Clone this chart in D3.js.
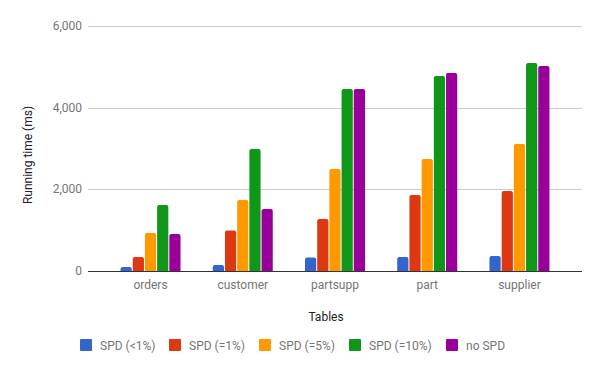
<!DOCTYPE html>
<html>
<head>
<meta charset="utf-8">
<script src="https://cdn.jsdelivr.net/npm/d3@7"></script>
<style>
  body { margin: 0; background: #fff; }
  svg { font-family: Roboto, Arial, sans-serif; }
</style>
</head>
<body>
<div id="chart"></div>
<script>
const tables = ["orders", "customer", "partsupp", "part", "supplier"];
const seriesNames = ["SPD (<1%)", "SPD (=1%)", "SPD (=5%)", "SPD (=10%)", "no SPD"];
const spdLt1 = [100, 150, 330, 345, 370];
const spdEq1 = [345, 990, 1275, 1860, 1960];
const spdEq5 = [930, 1740, 2500, 2745, 3110];
const spdEq10 = [1615, 2990, 4455, 4775, 5095];
const noSpd = [905, 1520, 4455, 4850, 5020];
const yTicks = [0, 2000, 4000, 6000];

const seriesValues = [spdLt1, spdEq1, spdEq5, spdEq10, noSpd];
const colors = ["#3366cc", "#dc3912", "#ff9900", "#109618", "#990099"];

const width = 600, height = 371;
const margin = {top: 26, right: 18, bottom: 100, left: 88};

const svg = d3.select("#chart")
    .append("svg")
    .attr("width", width)
    .attr("height", height);

const x = d3.scaleBand()
    .domain(tables)
    .range([margin.left, width - margin.right])
    .paddingInner(0)
    .paddingOuter(0.178);

const x1 = d3.scaleBand()
    .domain(d3.range(seriesNames.length))
    .range([0, 60])
    .paddingInner(0.08);

const y = d3.scaleLinear()
    .domain([0, 6000])
    .range([height - margin.bottom, margin.top]);

// grid lines
svg.append("g")
    .selectAll("line")
    .data(yTicks.slice(1))
    .join("line")
    .attr("x1", margin.left)
    .attr("x2", width - margin.right)
    .attr("y1", d => Math.round(y(d)) + 0.5)
    .attr("y2", d => Math.round(y(d)) + 0.5)
    .attr("stroke", "#cccccc");

// y tick labels
svg.append("g")
    .selectAll("text")
    .data(yTicks)
    .join("text")
    .attr("x", margin.left - 6)
    .attr("y", d => y(d) + 4)
    .attr("text-anchor", "end")
    .attr("font-size", 12)
    .attr("fill", "#757575")
    .text(d => d3.format(",")(d));

// bars with rounded tops
function barPath(x0, w, yTop, yBase) {
    const r = Math.min(2, (yBase - yTop) / 2);
    return `M${x0},${yBase} V${yTop + r} Q${x0},${yTop} ${x0 + r},${yTop} H${x0 + w - r} Q${x0 + w},${yTop} ${x0 + w},${yTop + r} V${yBase} Z`;
}

const groups = svg.append("g")
    .selectAll("g")
    .data(tables)
    .join("g")
    .attr("transform", d => `translate(${x(d) + x.bandwidth() / 2 - 30},0)`);

groups.selectAll("path")
    .data((t, i) => seriesValues.map((s, k) => ({k: k, v: s[i]})))
    .join("path")
    .attr("fill", d => colors[d.k])
    .attr("d", d => barPath(x1(d.k), x1.bandwidth(), y(d.v), y(0)));

// baseline
svg.append("line")
    .attr("x1", margin.left)
    .attr("x2", width - margin.right)
    .attr("y1", Math.round(y(0)) + 0.5)
    .attr("y2", Math.round(y(0)) + 0.5)
    .attr("stroke", "#333333");

// category labels
svg.append("g")
    .selectAll("text")
    .data(tables)
    .join("text")
    .attr("x", d => x(d) + x.bandwidth() / 2)
    .attr("y", y(0) + 18)
    .attr("text-anchor", "middle")
    .attr("font-size", 12)
    .attr("fill", "#757575")
    .text(d => d);

// axis titles
svg.append("text")
    .attr("x", 326)
    .attr("y", 321)
    .attr("text-anchor", "middle")
    .attr("font-size", 12)
    .attr("fill", "#222222")
    .text("Tables");

svg.append("text")
    .attr("transform", "translate(32,155) rotate(-90)")
    .attr("text-anchor", "middle")
    .attr("font-size", 12)
    .attr("fill", "#222222")
    .text("Running time (ms)");

// legend
const legendX = [80, 169, 259, 349, 446];
const legend = svg.append("g")
    .selectAll("g")
    .data(seriesNames)
    .join("g")
    .attr("transform", (d, i) => `translate(${legendX[i]},339)`);

legend.append("rect")
    .attr("width", 12)
    .attr("height", 12)
    .attr("rx", 1)
    .attr("fill", (d, i) => colors[i]);

legend.append("text")
    .attr("x", 20)
    .attr("y", 10.5)
    .attr("font-size", 12)
    .attr("fill", "#757575")
    .text(d => d);
</script>
</body>
</html>
